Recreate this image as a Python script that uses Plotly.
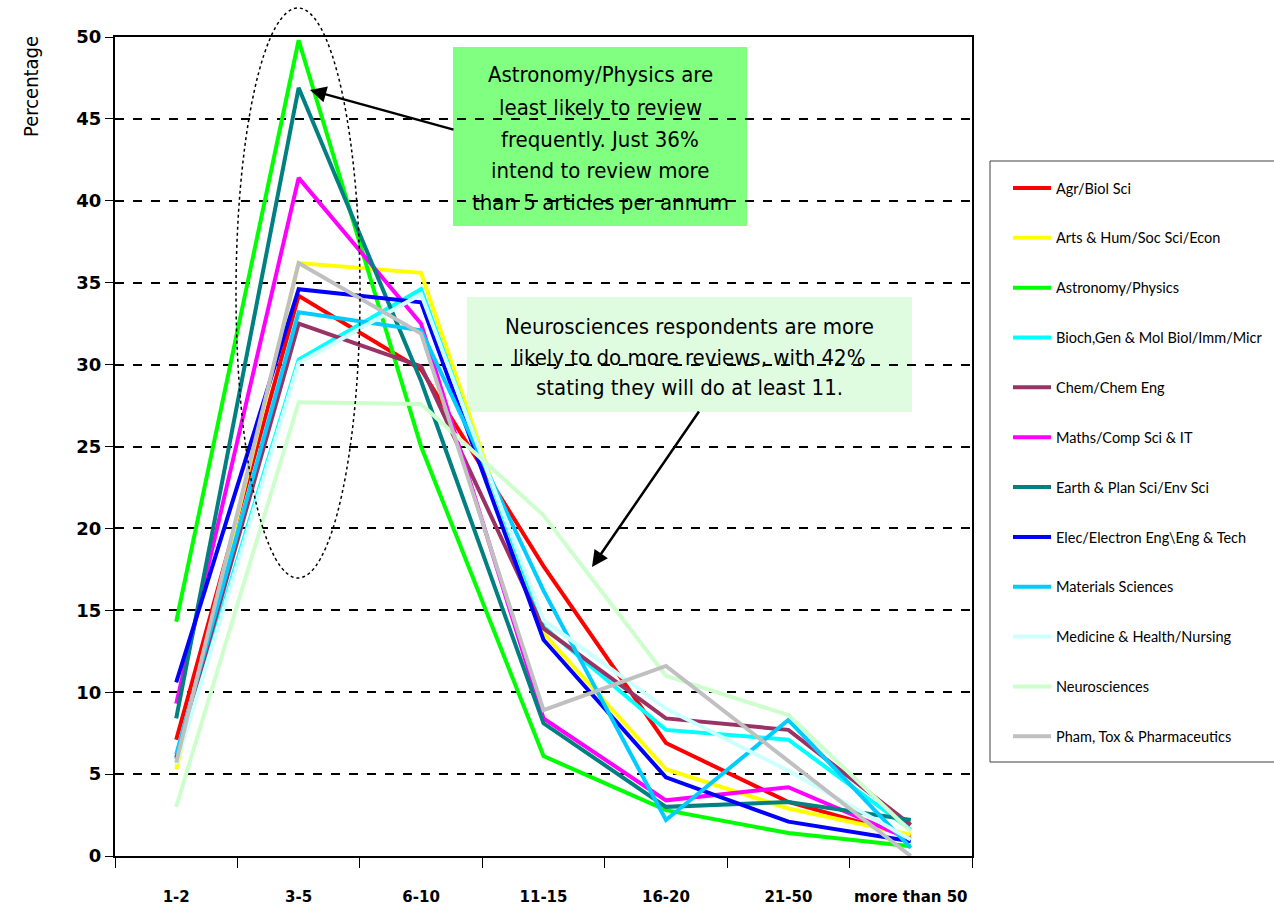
import plotly.graph_objects as go

categories = ["1-2", "3-5", "6-10", "11-15", "16-20", "21-50", "more than 50"]

series_names = [
    "Agr/Biol Sci",
    "Arts & Hum/Soc Sci/Econ",
    "Astronomy/Physics",
    "Bioch,Gen & Mol Biol/Imm/Micr",
    "Chem/Chem Eng",
    "Maths/Comp Sci & IT",
    "Earth & Plan Sci/Env Sci",
    "Elec/Electron Eng\\Eng & Tech",
    "Materials Sciences",
    "Medicine & Health/Nursing",
    "Neurosciences",
    "Pham, Tox & Pharmaceutics",
]

agr = [7.1, 34.2, 29.7, 17.7, 6.9, 3.3, 1.2]
arts = [5.3, 36.2, 35.6, 13.6, 5.3, 2.9, 1.3]
astro = [14.3, 49.8, 25.0, 6.1, 2.8, 1.4, 0.6]
bioch = [5.9, 30.3, 34.6, 14.0, 7.7, 7.1, 1.6]
chem = [6.0, 32.5, 29.9, 13.9, 8.4, 7.7, 1.9]
maths = [9.3, 41.4, 32.5, 8.4, 3.4, 4.2, 1.0]
earth = [8.4, 46.9, 29.0, 8.1, 3.0, 3.3, 2.2]
elec = [10.6, 34.6, 33.8, 13.2, 4.8, 2.1, 0.9]
materials = [6.2, 33.2, 32.1, 16.2, 2.2, 8.3, 0.5]
medicine = [5.6, 30.1, 34.3, 14.4, 9.0, 5.2, 1.0]
neuro = [3.0, 27.7, 27.6, 20.8, 11.0, 8.6, 1.5]
pham = [5.7, 36.2, 31.9, 8.9, 11.6, 5.8, 0.0]

series_values = [agr, arts, astro, bioch, chem, maths, earth, elec, materials, medicine, neuro, pham]
colors = ["#FF0000", "#FFFF00", "#00FF00", "#00FFFF", "#993366", "#FF00FF",
          "#008080", "#0000FF", "#00CCFF", "#CCFFFF", "#CCFFCC", "#C0C0C0"]

y_ticks = [0, 5, 10, 15, 20, 25, 30, 35, 40, 45, 50]

W, H = 1274, 912
L, R, T, B = 115, 972, 37, 856


def px(x):
    return (x - L) / (R - L)


def py(y):
    return (B - y) / (B - T)


fig = go.Figure()
for i, (name, vals, col) in enumerate(zip(series_names, series_values, colors)):
    fig.add_trace(go.Scatter(
        x=categories, y=vals, mode="lines", name=name,
        line=dict(color=col, width=4),
        legendgroup="g%d" % i,
    ))

narrow = "Liberation Sans Narrow, Arial Narrow, DejaVu Sans Condensed, sans-serif"

shapes = [
    dict(type="rect", xref="paper", yref="paper", x0=px(453), x1=px(747), y0=py(226), y1=py(47),
         fillcolor="#80FF80", line=dict(width=0), layer="below"),
    dict(type="rect", xref="paper", yref="paper", x0=px(467), x1=px(912), y0=py(412), y1=py(297),
         fillcolor="#E0FCE0", line=dict(width=0), layer="below"),
    dict(type="circle", xref="paper", yref="paper", x0=px(236), x1=px(360), y0=py(578), y1=py(8),
         line=dict(color="black", width=1.5, dash="dot"), layer="above"),
    dict(type="rect", xref="paper", yref="paper", x0=px(990), x1=px(1290), y0=py(762), y1=py(161),
         fillcolor="rgba(0,0,0,0)", line=dict(color="#404040", width=1), layer="above"),
]

annotations = []
box1 = ["Astronomy/Physics are", "least likely to review", "frequently. Just 36%",
        "intend to review more", "than 5 articles per annum"]
for k, t in enumerate(box1):
    annotations.append(dict(xref="paper", yref="paper", x=px(600), y=py(75 + 32 * k),
                            text=t, showarrow=False, xanchor="center", yanchor="middle",
                            font=dict(family=narrow, size=22, color="black")))
box2 = ["Neurosciences respondents are more", "likely to do more reviews, with 42%",
        "stating they will do at least 11."]
for k, t in enumerate(box2):
    annotations.append(dict(xref="paper", yref="paper", x=px(689), y=py(327 + 30 * k),
                            text=t, showarrow=False, xanchor="center", yanchor="middle",
                            font=dict(family=narrow, size=22, color="black")))

annotations.append(dict(xref="paper", yref="paper", x=px(310), y=py(90), ax=145, ay=40,
                        axref="pixel", ayref="pixel", text="", showarrow=True,
                        arrowhead=2, arrowsize=1.3, arrowwidth=2.5, arrowcolor="black"))
annotations.append(dict(xref="paper", yref="paper", x=px(592), y=py(567), ax=108, ay=-157,
                        axref="pixel", ayref="pixel", text="", showarrow=True,
                        arrowhead=2, arrowsize=1.3, arrowwidth=2.5, arrowcolor="black"))

annotations.append(dict(xref="paper", yref="paper", x=px(31), y=py(87), text="Percentage",
                        showarrow=False, textangle=-90, xanchor="center", yanchor="middle",
                        font=dict(family=narrow, size=20, color="black")))

fig.update_layout(
    width=W, height=H,
    margin=dict(l=L, r=W - R, t=T, b=H - B, pad=0, autoexpand=False),
    paper_bgcolor="white", plot_bgcolor="rgba(0,0,0,0)",
    shapes=shapes, annotations=annotations,
    legend=dict(
        x=px(1008), y=py(172), xanchor="left", yanchor="top",
        borderwidth=0, bgcolor="rgba(255,255,255,0)",
        font=dict(family="Lato, Carlito, sans-serif", size=14.5, color="black"),
        tracegroupgap=28, traceorder="grouped", itemwidth=38,
    ),
    xaxis=dict(
        type="category", range=[-0.5, 6.5], showgrid=False,
        showline=True, linecolor="black", linewidth=2, mirror=True,
        ticks="outside", tickson="boundaries", ticklen=10, tickcolor="black", tickwidth=1,
        ticklabelstandoff=26, tickangle=0,
        tickfont=dict(family="DejaVu Sans", size=15, color="black", weight="bold"),
    ),
    yaxis=dict(
        range=[0, 50], tickvals=y_ticks, showgrid=True, gridcolor="black", gridwidth=1.5,
        griddash="dash", zeroline=False,
        showline=True, linecolor="black", linewidth=2, mirror=True,
        ticks="outside", ticklen=8, tickcolor="black", tickwidth=1,
        tickfont=dict(family="DejaVu Sans", size=18, color="black", weight="bold"),
    ),
)

fig.write_html("out.html")
